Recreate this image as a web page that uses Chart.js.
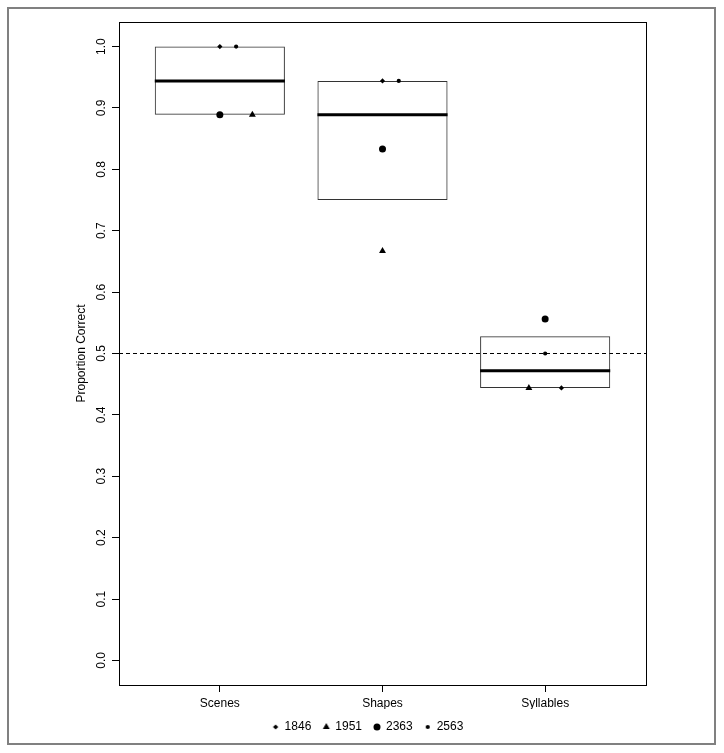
<!DOCTYPE html>
<html>
<head>
<meta charset="utf-8">
<script src="https://cdn.jsdelivr.net/npm/chart.js@4.4.1/dist/chart.umd.min.js"></script>
<style>
  body { margin: 0; background: #fff; }
  #wrap { position: relative; width: 724px; height: 753px; }
  #chart { display: block; }
  #frame {
    position: absolute; left: 7px; top: 7px; width: 709px; height: 738px;
    box-sizing: border-box; border: 2px solid #808080; pointer-events: none;
  }
</style>
</head>
<body>
<div id="wrap">
  <canvas id="chart" width="724" height="753"></canvas>
  <div id="frame"></div>
</div>
<script>
const categories = ["Scenes", "Shapes", "Syllables"];
const yTicks = [0.0, 0.1, 0.2, 0.3, 0.4, 0.5, 0.6, 0.7, 0.8, 0.9, 1.0];

// proportion correct per participant, in category order
const p1846 = [1.0, 0.944, 0.444];
const p1951 = [0.889, 0.667, 0.444];
const p2363 = [0.889, 0.833, 0.556];
const p2563 = [1.0, 0.944, 0.5];

// small horizontal shifts so tied points don't sit on top of each other
const jit1846 = [0, 0, 0.1];
const jit1951 = [0.2, 0, -0.1];
const jit2363 = [0, 0, 0];
const jit2563 = [0.1, 0.1, 0];

// box hinges and medians
const lowerHinge = [0.889, 0.75, 0.444];
const medians = [0.944, 0.889, 0.472];
const upperHinge = [1.0, 0.944, 0.528];

const chance = 0.5;

const xMin = 0.38, xMax = 3.62;
const padLeft = 90;
const font = { family: "Liberation Sans, Arial, sans-serif", size: 12 };

const toPoints = (vals, jit) => vals.map((v, i) => ({ x: i + 1 + jit[i], y: v }));

const medianLine = [];
medians.forEach((m, i) => {
  medianLine.push({ x: i + 0.6, y: m }, { x: i + 1.4, y: m }, { x: i + 1.4, y: null });
});

const boxes = categories.map((c, i) => ({ x: i + 1, y: [lowerHinge[i], upperHinge[i]] }));

// frame round the plotting region
const plotBox = {
  id: "plotBox",
  afterDatasetsDraw(chart) {
    const { ctx, chartArea: a } = chart;
    ctx.save();
    ctx.strokeStyle = "#000";
    ctx.lineWidth = 1;
    ctx.strokeRect(a.left + 0.5, a.top + 0.5, a.width, a.height);
    ctx.restore();
  },
};

const pointSet = (label, data, style, radius) => ({
  type: "scatter",
  label: label,
  data: data,
  pointStyle: style,
  pointRadius: radius,
  pointHoverRadius: radius,
  backgroundColor: "#000",
  borderColor: "#000",
  borderWidth: 0,
});

// legend markers keep the same size as the plotted points
const legendIcon = (ds) => {
  const c = document.createElement("canvas");
  c.width = 10;
  c.height = 10;
  const g = c.getContext("2d");
  g.fillStyle = "#000";
  Chart.helpers.drawPoint(g, { pointStyle: ds.pointStyle, radius: ds.pointRadius, borderWidth: 0 }, 5, 5);
  return c;
};

const config = {
  type: "scatter",
  data: {
    datasets: [
      pointSet("1846", toPoints(p1846, jit1846), "rectRot", 2.6),
      pointSet("1951", toPoints(p1951, jit1951), "triangle", 4),
      pointSet("2363", toPoints(p2363, jit2363), "circle", 3.5),
      pointSet("2563", toPoints(p2563, jit2563), "circle", 2.1),
      {
        type: "line",
        label: "median",
        data: medianLine,
        borderColor: "#000",
        borderWidth: 3,
        pointRadius: 0,
        spanGaps: false,
      },
      {
        type: "bar",
        label: "box",
        data: boxes,
        backgroundColor: "rgba(0,0,0,0)",
        borderColor: "#333",
        borderWidth: 1,
        borderSkipped: false,
        barPercentage: 0.8,
        categoryPercentage: 1,
      },
      {
        type: "line",
        label: "chance",
        data: [{ x: xMin, y: chance }, { x: xMax, y: chance }],
        borderColor: "#000",
        borderWidth: 1,
        borderDash: [4, 3],
        pointRadius: 0,
      },
    ],
  },
  options: {
    responsive: false,
    animation: false,
    layout: { padding: { left: padLeft, top: 22, right: 78, bottom: 10 } },
    plugins: {
      tooltip: { enabled: false },
      legend: {
        display: true,
        position: "bottom",
        labels: {
          generateLabels: (chart) => {
            const items = Chart.defaults.plugins.legend.labels.generateLabels(chart);
            return items
              .filter((it) => it.datasetIndex < 4)
              .map((it) => ({ ...it, pointStyle: legendIcon(chart.data.datasets[it.datasetIndex]) }));
          },
          usePointStyle: true,
          boxWidth: 6,
          boxHeight: 5,
          padding: 12,
          color: "#000",
          font: font,
        },
      },
    },
    scales: {
      x: {
        type: "linear",
        min: xMin,
        max: xMax,
        offset: false,
        afterBuildTicks: (axis) => {
          axis.ticks = categories.map((c, i) => ({ value: i + 1 }));
        },
        afterFit: (axis) => {
          axis.height = 24;
        },
        ticks: {
          callback: (v, i) => categories[i],
          autoSkip: false,
          maxRotation: 0,
          padding: 4,
          color: "#000",
          font: font,
        },
        grid: { drawOnChartArea: false, offset: false, tickLength: 7, color: "#000" },
        border: { display: true, color: "#000" },
      },
      y: {
        type: "linear",
        min: -0.04,
        max: 1.04,
        afterBuildTicks: (axis) => {
          axis.ticks = yTicks.map((v) => ({ value: v }));
        },
        afterFit: (axis) => {
          axis.width = 119 - padLeft;
        },
        ticks: {
          callback: (v, i) => yTicks[i].toFixed(1),
          minRotation: 90,
          maxRotation: 90,
          crossAlign: "center",
          padding: 2,
          color: "#000",
          font: font,
        },
        title: {
          display: true,
          text: "Proportion Correct",
          color: "#000",
          padding: { top: -16, bottom: 0 },
          font: font,
        },
        grid: { drawOnChartArea: false, tickLength: 7, color: "#000" },
        border: { display: true, color: "#000" },
      },
    },
  },
  plugins: [plotBox],
};

const ctx = document.getElementById("chart").getContext("2d");
const chart = new Chart(ctx, config);
</script>
</body>
</html>
